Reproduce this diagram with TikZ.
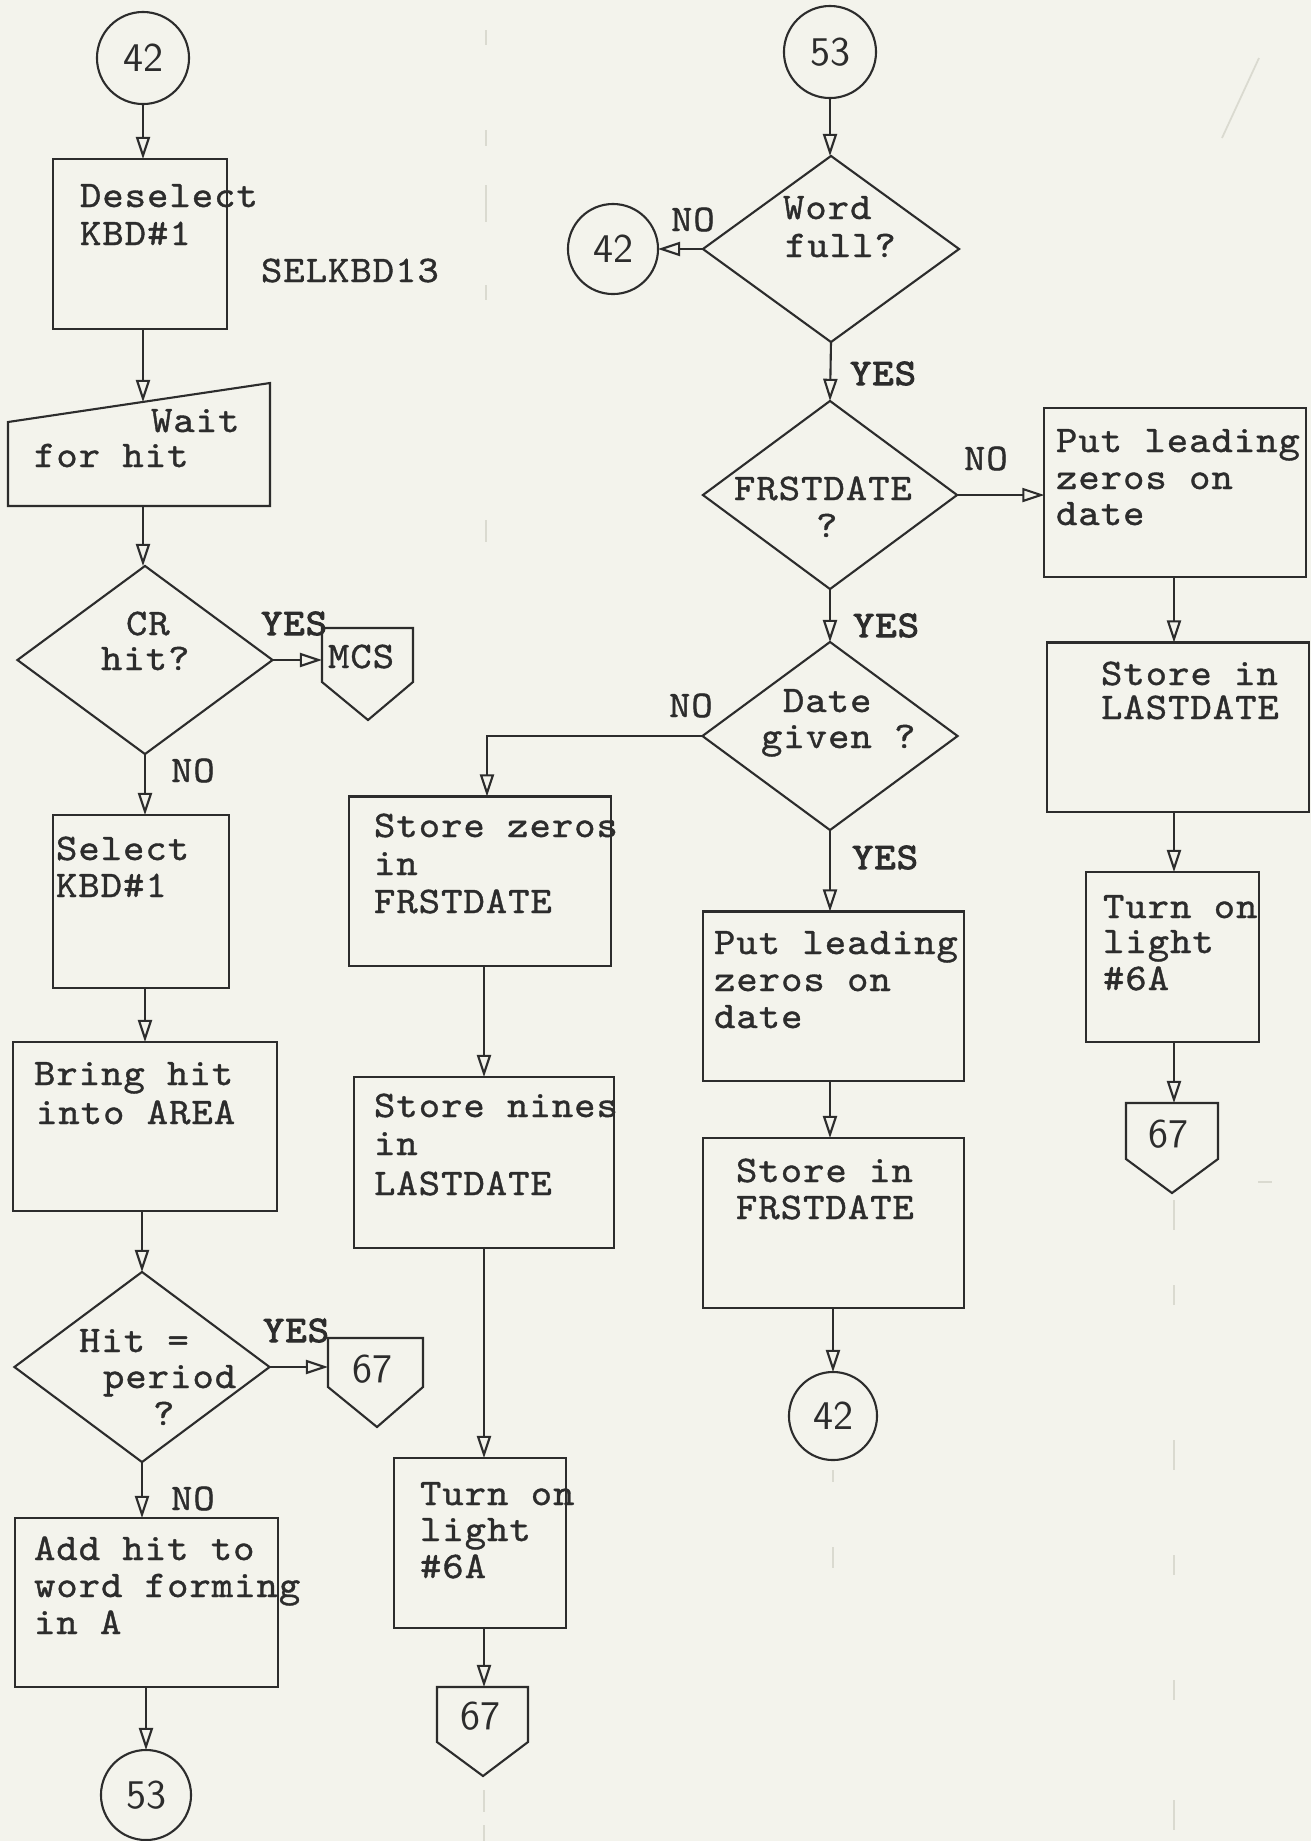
\documentclass[tikz,border=0pt]{standalone}
\usepackage{fontspec}
\newfontfamily\twf{lmmono10-regular.otf}[FakeStretch=1.08,LetterSpace=2.7,FakeBold=1.0]
\newfontfamily\twfb{lmmono10-regular.otf}[FakeStretch=1.08,LetterSpace=2.7,FakeBold=2.6]
\newcommand\twfont{\twf\fontsize{10.7pt}{11pt}\selectfont}
\newcommand\twbold{\twfb\fontsize{10.7pt}{11pt}\selectfont}
\newcommand\numfont{\sffamily\fontsize{11.6pt}{12pt}\selectfont}
\usetikzlibrary{shapes.geometric,arrows.meta}
\definecolor{paper}{RGB}{243,243,236}
\definecolor{ink}{RGB}{44,44,44}
\definecolor{ghost}{RGB}{218,218,208}
\begin{document}
\begin{tikzpicture}[x=0.01cm,y=-0.01cm,color=ink,line width=0.6pt,
  box/.style={draw,rectangle,inner sep=0pt,outer sep=0pt},
  dia/.style={draw,diamond,inner sep=0pt,outer sep=0pt},
  conn/.style={draw,circle,inner sep=0pt,outer sep=0pt,font=\numfont},
  tt/.style={anchor=base west,inner sep=0pt,font=\twfont},
  yes/.style={anchor=base west,inner sep=0pt,font=\twbold},
  num/.style={inner sep=0pt,font=\numfont},
  arr/.style={-{Triangle[open,length=6.3pt,width=4pt]}},
  ghostline/.style={draw=ghost,line width=0.5pt}]
\path[use as bounding box,fill=paper] (0,0) rectangle (1311,1841);

% faint show-through marks
\draw[ghostline] (486,30) -- (486,45) (486,130) -- (486,146) (486,185) -- (486,222) (486,285) -- (486,300) (486,520) -- (486,542);
\draw[ghostline] (1174,1200) -- (1174,1230) (1174,1285) -- (1174,1305) (1174,1440) -- (1174,1470) (1174,1555) -- (1174,1575) (1174,1680) -- (1174,1700) (1174,1800) -- (1174,1830);
\draw[ghostline] (833,1470) -- (833,1482) (833,1547) -- (833,1568);
\draw[ghostline] (484,1790) -- (484,1812) (484,1825) -- (484,1841);
\draw[ghostline] (1222,138) -- (1259,58);
\draw[ghostline] (1258,1182) -- (1272,1182);

% ---------------- left column ----------------
\node[conn,minimum size=0.92cm] (c42a) at (143,58) {42};
\node[box,minimum width=1.74cm,minimum height=1.70cm] (deselect) at (140,244) {};
\node[tt] (tdes1) at (79,207) {Deselect};
\node[tt] (tdes2) at (79,245) {KBD\#1};
\node[tt] (tsel13) at (260,282) {SELKBD13};

\draw (8,422) -- (270,383) -- (270,506) -- (8,506) -- cycle;
\coordinate (waitTop) at (143,402);
\coordinate (waitBot) at (143,506);
\node[tt] (twait1) at (150,432) {Wait};
\node[tt] (twait2) at (33,467) {for hit};

\node[dia,minimum width=2.55cm,minimum height=1.88cm] (dcr) at (145,660) {};
\node[tt] (tcr1) at (125,635) {CR};
\node[tt] (tcr2) at (100,670) {hit?};
\node[yes] (tyes1) at (260,635) {YES};
\draw (322,628) -- (413,628) -- (413,682) -- (368,720) -- (322,682) -- cycle;
\coordinate (mcsIn) at (322,660);
\node[tt] (tmcs) at (327,668) {MCS};
\node[tt] (tno1) at (170,782) {NO};

\node[box,minimum width=1.76cm,minimum height=1.73cm] (select) at (141,901.5) {};
\node[tt] (tsel1) at (55,860) {Select};
\node[tt] (tsel2) at (55,897) {KBD\#1};

\node[box,minimum width=2.64cm,minimum height=1.69cm] (bring) at (145,1126.5) {};
\node[tt] (tbr1) at (33,1085) {Bring hit};
\node[tt] (tbr2) at (35,1124) {into AREA};

\node[dia,minimum width=2.55cm,minimum height=1.90cm] (dhit) at (142,1367) {};
\node[tt] (thit1) at (78,1352) {Hit =};
\node[tt] (thit2) at (102,1388) {period};
\node[tt] (thit3) at (152,1425) {?};
\node[yes] (tyes2) at (262,1342) {YES};
\draw (328,1338) -- (423,1338) -- (423,1387) -- (377,1427) -- (328,1387) -- cycle;
\coordinate (p67aIn) at (328,1367);
\node[num] (t67a) at (372,1369) {67};
\node[tt] (tno2) at (170,1510) {NO};

\node[box,minimum width=2.63cm,minimum height=1.69cm] (addhit) at (146.5,1602.5) {};
\node[tt] (tadd1) at (33,1560) {Add hit to};
\node[tt] (tadd2) at (33,1597) {word forming};
\node[tt] (tadd3) at (33,1634) {in A};

\node[conn,minimum size=0.90cm] (c53a) at (146,1795) {53};

% ---------------- middle column ----------------
\node[conn,minimum size=0.92cm] (c53b) at (830,52) {53};
\node[dia,minimum width=2.56cm,minimum height=1.86cm] (dword) at (831,249) {};
\node[tt] (tword1) at (782,219) {Word};
\node[tt] (tword2) at (784,257) {full?};
\node[conn,minimum size=0.90cm] (c42b) at (613,249) {42};
\node[tt] (tno3) at (670,231) {NO};
\node[yes] (tyes3) at (849,385) {YES};

\node[dia,minimum width=2.54cm,minimum height=1.88cm] (dfrst) at (830,495) {};
\node[tt] (tfr1) at (733,500) {FRSTDATE};
\node[tt] (tfr2) at (815,537) {?};
\node[tt] (tno4) at (963,470) {NO};
\node[yes] (tyes4) at (852,637) {YES};

\node[dia,minimum width=2.55cm,minimum height=1.88cm] (ddate) at (830,736) {};
\node[tt] (tdate1) at (782,712) {Date};
\node[tt] (tdate2) at (760,748) {given ?};
\node[tt] (tno5) at (668,717) {NO};
\coordinate (bend) at (487,736);

\node[box,minimum width=2.62cm,minimum height=1.69cm] (zeros) at (480,881) {};
\node[tt] (tz1) at (373,837) {Store zeros};
\node[tt] (tz2) at (373,875) {in};
\node[tt] (tz3) at (373,913) {FRSTDATE};

\node[box,minimum width=2.60cm,minimum height=1.71cm] (nines) at (484,1162.5) {};
\node[tt] (tn1) at (373,1117) {Store nines};
\node[tt] (tn2) at (373,1155) {in};
\node[tt] (tn3) at (373,1195) {LASTDATE};

\node[box,minimum width=1.72cm,minimum height=1.70cm] (turnA) at (480,1543) {};
\node[tt] (tta1) at (419,1505) {Turn on};
\node[tt] (tta2) at (419,1541) {light};
\node[tt] (tta3) at (419,1578) {\#6A};
\draw (437,1687) -- (528,1687) -- (528,1742) -- (483,1776) -- (437,1742) -- cycle;
\coordinate (p67bTop) at (484,1687);
\node[num] (t67b) at (480,1716) {67};

\node[yes] (tyes5) at (851,869) {YES};
\node[box,minimum width=2.61cm,minimum height=1.69cm] (leadA) at (833.5,996) {};
\node[tt] (tla1) at (713,954) {Put leading};
\node[tt] (tla2) at (713,991) {zeros on};
\node[tt] (tla3) at (713,1028) {date};

\node[box,minimum width=2.61cm,minimum height=1.70cm] (storeF) at (833.5,1223) {};
\node[tt] (tsf1) at (735,1182) {Store in};
\node[tt] (tsf2) at (735,1219) {FRSTDATE};

\node[conn,minimum size=0.88cm] (c42c) at (833,1416) {42};

% ---------------- right column ----------------
\node[box,minimum width=2.61cm,minimum height=1.69cm] (leadB) at (1175,492.5) {};
\node[tt] (tlb1) at (1055,452) {Put leading};
\node[tt] (tlb2) at (1055,489) {zeros on};
\node[tt] (tlb3) at (1055,525) {date};

\node[box,minimum width=2.62cm,minimum height=1.69cm] (storeL) at (1178,727) {};
\node[tt] (tsl1) at (1100,685) {Store in};
\node[tt] (tsl2) at (1100,719) {LASTDATE};

\node[box,minimum width=1.73cm,minimum height=1.70cm] (turnB) at (1172.5,957) {};
\node[tt] (ttb1) at (1102,918) {Turn on};
\node[tt] (ttb2) at (1102,953) {light};
\node[tt] (ttb3) at (1102,990) {\#6A};
\draw (1126,1103) -- (1218,1103) -- (1218,1159) -- (1172,1193) -- (1126,1159) -- cycle;
\coordinate (p67cTop) at (1174,1103);
\node[num] (t67c) at (1168,1134) {67};

% ---------------- connectors ----------------
\draw[arr] (c42a.south) -- (c42a.south |- deselect.north);
\draw[arr] (waitTop |- deselect.south) -- (waitTop);
\draw[arr] (waitBot) -- (waitBot |- dcr.north);
\draw[arr] (dcr.east) -- (mcsIn);
\draw[arr] (dcr.south) -- (dcr.south |- select.north);
\draw[arr] (dcr.south |- select.south) -- (dcr.south |- bring.north);
\draw[arr] (dhit.north |- bring.south) -- (dhit.north);
\draw[arr] (dhit.east) -- (p67aIn);
\draw[arr] (dhit.south) -- (dhit.south |- addhit.north);
\draw[arr] (c53a.north |- addhit.south) -- (c53a.north);

\draw[arr] (c53b.south) -- (c53b.south |- dword.north);
\draw[arr] (dword.west) -- (c42b.east);
\draw[arr] (dword.south) -- (dfrst.north);
\draw[arr] (dfrst.east) -- (dfrst.east -| leadB.west);
\draw[arr] (dfrst.south) -- (ddate.north);
\draw[arr] (ddate.west) -- (bend) -- (bend |- zeros.north);
\draw[arr] (p67bTop |- zeros.south) -- (p67bTop |- nines.north);
\draw[arr] (p67bTop |- nines.south) -- (p67bTop |- turnA.north);
\draw[arr] (p67bTop |- turnA.south) -- (p67bTop);
\draw[arr] (ddate.south) -- (ddate.south |- leadA.north);
\draw[arr] (ddate.south |- leadA.south) -- (ddate.south |- storeF.north);
\draw[arr] (c42c.north |- storeF.south) -- (c42c.north);

\draw[arr] (p67cTop |- leadB.south) -- (p67cTop |- storeL.north);
\draw[arr] (p67cTop |- storeL.south) -- (p67cTop |- turnB.north);
\draw[arr] (p67cTop |- turnB.south) -- (p67cTop);
\end{tikzpicture}
\end{document}
